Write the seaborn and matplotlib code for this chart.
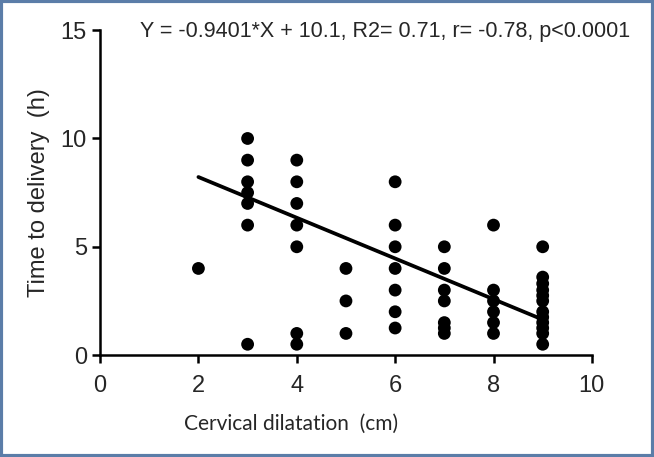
import matplotlib
matplotlib.use('Agg')
import matplotlib.pyplot as plt
from matplotlib.patches import Rectangle
import numpy as np
import pandas as pd
import seaborn as sns

# data
dilatation = ([2] + [3] * 7 + [4] * 7 + [5] * 3 + [6] * 7 + [7] * 7
              + [8] * 6 + [9] * 12)
delivery = ([4]
            + [10, 9, 8, 7.5, 7, 6, 0.5]
            + [9, 8, 7, 6, 5, 1, 0.5]
            + [4, 2.5, 1]
            + [8, 6, 5, 4, 3, 2, 1.25]
            + [5, 4, 3, 2.5, 1.5, 1.25, 1]
            + [6, 3, 2.5, 2, 1.5, 1]
            + [5, 3.6, 3.3, 3, 2.75, 2.5, 2, 1.75, 1.5, 1.25, 1, 0.5])

slope = -0.9401
intercept = 10.1
fit_x = [2, 9]
eq_text = 'Y = -0.9401*X + 10.1, R2= 0.71, r= -0.78, p<0.0001'

df = pd.DataFrame({'x': dilatation, 'y': delivery})

sns.set_style('ticks')
plt.rcParams['font.family'] = ['Liberation Sans', 'DejaVu Sans']
plt.rcParams['font.sans-serif'] = ['Liberation Sans', 'DejaVu Sans']

fig = plt.figure(figsize=(6.54, 4.57), dpi=100)
ax = fig.add_axes([0.153, 0.223, 0.752, 0.711])

sns.scatterplot(data=df, x='x', y='y', ax=ax, color='black', s=85,
                edgecolor='none', zorder=3)
fx = np.array(fit_x)
ax.plot(fx, slope * fx + intercept, color='black', linewidth=2.7, zorder=2)

ax.set_xlim(0, 10)
ax.set_ylim(0, 15)
ax.set_xticks([0, 2, 4, 6, 8, 10])
ax.set_yticks([0, 5, 10, 15])
ax.tick_params(axis='both', labelsize=17, width=1.8, length=6, color='black')
ax.tick_params(axis='x', pad=8)
for lab in ax.get_xticklabels() + ax.get_yticklabels():
    lab.set_family('Liberation Sans')
for s in ['left', 'bottom']:
    ax.spines[s].set_linewidth(1.8)
    ax.spines[s].set_color('black')
sns.despine(ax=ax)

ax.set_ylabel('Time to delivery  (h)', fontsize=17, labelpad=8,
              family='Liberation Sans')
ax.set_xlabel('')
fig.text(291 / 654, 1 - 424 / 457, 'Cervical dilatation  (cm)', fontsize=15,
         ha='center', va='center', family=['Lato', 'DejaVu Sans'])

fig.text(140 / 654, 1 - 32 / 457, eq_text, fontsize=15.5, va='center',
         ha='left', family='Liberation Sans')

# blue frame around the picture
fig.patches.append(Rectangle((0.002, 0.003), 0.996, 0.994,
                             transform=fig.transFigure, fill=False,
                             edgecolor='#5b7da8', linewidth=3))

fig.savefig('out.png', dpi=100)
